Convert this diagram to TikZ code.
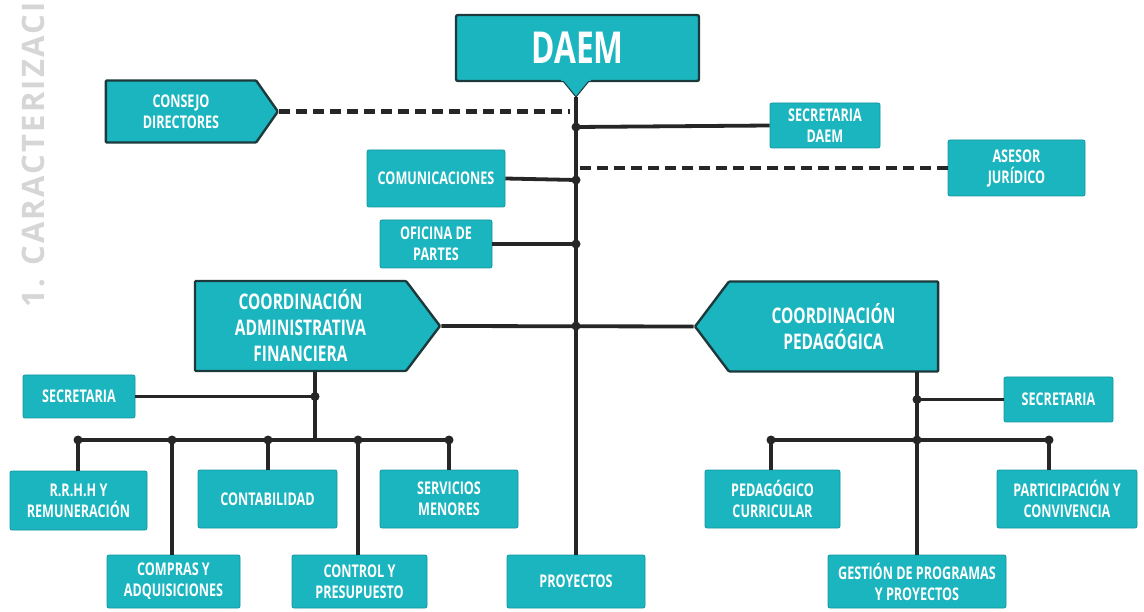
\documentclass[tikz,border=0pt]{standalone}
\usepackage{fontspec}
\setmainfont{Open Sans}[FakeStretch=0.72]
\newfontfamily\sidefont{Open Sans Bold}[LetterSpace=7]
\usetikzlibrary{shapes.symbols}
\definecolor{tealfill}{HTML}{1BB5BF}
\definecolor{tealedge}{HTML}{14979F}
\definecolor{darkedge}{HTML}{1C3A3C}
\definecolor{linec}{HTML}{262626}
\definecolor{sidegrey}{HTML}{D6D6D6}
\tikzset{
  box/.style={fill=tealfill, draw=tealedge, line width=0.8pt, rounded corners=2pt,
    text=white, align=center, inner sep=0pt, font=\bfseries\fontsize{17.5}{21}\selectfont},
  bigbox/.style={box, draw=darkedge, line width=2.4pt},
  sig/.style={bigbox, shape=signal, rounded corners=1pt},
  coordfont/.style={font=\bfseries\fontsize{21.5}{26}\selectfont},
  conn/.style={draw=linec, line width=3.8pt},
  dashconn/.style={draw=linec, line width=4.6pt, dash pattern=on 11pt off 6pt},
  jdot/.style={fill=linec, draw=none},
}
\begin{document}
\begin{tikzpicture}[x=1pt,y=-1pt]
\useasboundingbox (0,0) rectangle (1144,612);
\fill[white] (0,0) rectangle (1144,612);
\begin{scope}
\clip (0,0) rectangle (1144,612);
\node[rotate=90, anchor=base west, inner sep=0pt, text=sidegrey,
  font=\sidefont\fontsize{31}{31}\selectfont] (side) at (45,308) {1. CARACTERIZACI};
\end{scope}

% top
\node[bigbox, minimum width=243pt, minimum height=66pt, font=\bfseries\fontsize{44}{44}\selectfont] (daem) at (577.5,48) {DAEM};
\fill[tealfill, draw=darkedge, line width=1pt, line join=round] (563,81) -- (576,97) -- (589,81);
\fill[tealfill] (561,78) rectangle (591,81.2);
\coordinate (daemtip) at (576,97);

\node[sig, signal to=east, signal pointer angle=110, minimum width=172pt, minimum height=62pt] (cons) at (181,111.5) {CONSEJO\\DIRECTORES};
\node[box, minimum width=110pt, minimum height=45pt] (secd) at (825,125.5) {SECRETARIA\\DAEM};
\node[box, minimum width=137pt, minimum height=56pt] (ases) at (1016.5,168) {ASESOR\\JURÍDICO};
\node[box, minimum width=138pt, minimum height=57pt] (com) at (436,178.5) {COMUNICACIONES};
\node[box, minimum width=112pt, minimum height=48pt] (ofi) at (436,244) {OFICINA DE\\PARTES};

% coordinations
\node[sig, coordfont, signal to=east, signal pointer angle=106, minimum width=245pt, minimum height=90pt] (adm) at (300.5,326) {COORDINACIÓN\\ADMINISTRATIVA\\FINANCIERA};
\node[sig, coordfont, signal to=west, signal pointer angle=106, minimum width=243pt, minimum height=90pt] (ped) at (833.5,326.5) {COORDINACIÓN\\PEDAGÓGICA};

% left branch
\node[box, minimum width=112pt, minimum height=43pt] (secl) at (79,396.5) {SECRETARIA};
\node[box, minimum width=137pt, minimum height=59pt] (rrhh) at (78.5,500.5) {R.R.H.H Y\\REMUNERACIÓN};
\node[box, minimum width=133pt, minimum height=53pt] (comp) at (173.5,581.5) {COMPRAS Y\\ADQUISICIONES};
\node[box, minimum width=139pt, minimum height=58pt] (cont) at (267.5,499) {CONTABILIDAD};
\node[box, minimum width=135pt, minimum height=53pt] (ctrl) at (359.5,581.5) {CONTROL Y\\PRESUPUESTO};
\node[box, minimum width=138pt, minimum height=58pt] (serv) at (449,499) {SERVICIOS\\MENORES};
\node[box, minimum width=138pt, minimum height=53pt] (proy) at (576,581.5) {PROYECTOS};

% right branch
\node[box, minimum width=109pt, minimum height=45pt] (secr) at (1058.5,399.5) {SECRETARIA};
\node[box, minimum width=135pt, minimum height=58pt] (pcur) at (772.5,499) {PEDAGÓGICO\\CURRICULAR};
\node[box, minimum width=140pt, minimum height=58pt] (part) at (1067,499) {PARTICIPACIÓN Y\\CONVIVENCIA};
\node[box, minimum width=178pt, minimum height=53pt] (gest) at (917,581.5) {GESTIÓN DE PROGRAMAS\\Y PROYECTOS};

% junction coordinates
\coordinate (tsec) at (576,127);
\coordinate (tcom) at (576,180);
\coordinate (tofi) at (576,244);
\coordinate (tco) at (576,326);
\coordinate (abot) at (315,372);
\coordinate (asec) at (315,396.5);
\coordinate (abus) at (315,440);
\coordinate (b1) at (78,440);
\coordinate (b2) at (172,440);
\coordinate (b3) at (268,440);
\coordinate (b4) at (358,440);
\coordinate (b5) at (449,440);
\coordinate (pbot) at (917,372);
\coordinate (psec) at (917,399.5);
\coordinate (pbus) at (917,440);
\coordinate (c1) at (771,440);
\coordinate (c2) at (1049,440);

% connectors
\draw[dashconn] (cons.east) -- (570,111.5);
\draw[dashconn] (ases.west) -- (580,168);
\draw[conn] (daemtip) -- (proy.north);
\draw[conn] (tsec) -- (secd.west);
\draw[conn] (com.east) -- (tcom);
\draw[conn] (ofi.east) -- (tofi);
\draw[conn] (adm.east) -- (ped.west);

\draw[conn] (abot) -- (abus);
\draw[conn] (secl.east) -- (asec);
\draw[conn, line cap=round] (b1) -- (b5);
\draw[conn] (b1) -- (b1 |- rrhh.north);
\draw[conn] (b2) -- (b2 |- comp.north);
\draw[conn] (b3) -- (b3 |- cont.north);
\draw[conn] (b4) -- (b4 |- ctrl.north);
\draw[conn] (b5) -- (b5 |- serv.north);

\draw[conn] (pbot) -- (gest.north);
\draw[conn] (psec) -- (secr.west);
\draw[conn, line cap=round] (c1) -- (c2);
\draw[conn] (c1) -- (c1 |- pcur.north);
\draw[conn] (c2) -- (c2 |- part.north);

% junction dots
\foreach \p in {tsec,tcom,tofi,tco,asec,b1,b2,b3,b4,b5,psec,pbus,c1,c2}
  \fill[jdot] (\p) circle (4.5pt);
\end{tikzpicture}
\end{document}
